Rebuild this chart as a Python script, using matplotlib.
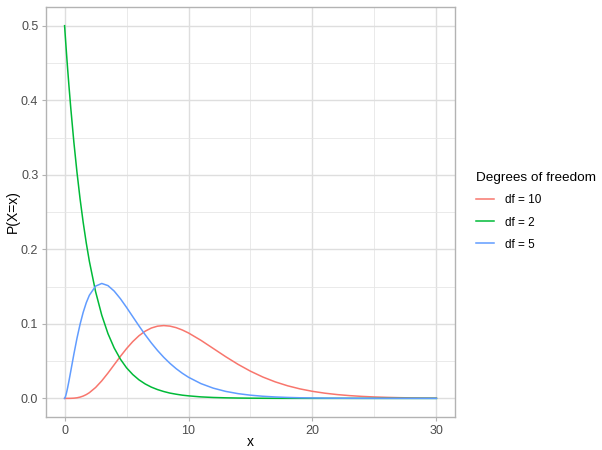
import matplotlib
matplotlib.use("Agg")
import matplotlib.pyplot as plt
from matplotlib.ticker import MultipleLocator

plt.rcParams['font.family'] = ['Liberation Sans', 'DejaVu Sans']

# x positions where the curves were read
x = [0, 0.05, 0.1, 0.15, 0.2, 0.25, 0.35, 0.5, 0.75, 1, 1.25, 1.5, 1.75, 2, 2.5,
     3, 3.5, 4, 4.5, 5, 5.5, 6, 6.5, 7, 7.5, 8, 8.5, 9, 9.5, 10, 11, 12, 13,
     14, 15, 16, 17, 18, 19, 20, 21, 22, 23, 24, 25, 26, 27, 28, 29, 30]

df10 = [0, 0, 0, 0, 0.0000019, 0.0000045, 0.000016, 0.0000634, 0.000283, 0.00079,
        0.0017015, 0.003114, 0.0050908, 0.007664, 0.014572,
        0.023533, 0.033954, 0.045112, 0.056276, 0.066801, 0.076169, 0.084016,
        0.090122, 0.094405, 0.096891, 0.097685, 0.096952, 0.094904, 0.091759,
        0.087734, 0.07791, 0.066927, 0.05591, 0.045613, 0.036458, 0.028626,
        0.022128, 0.016869, 0.012701, 0.009458, 0.006974, 0.005094, 0.003691,
        0.002654, 0.001896, 0.001345, 0.000949, 0.000665, 0.000464, 0.000323]

df2 = [0.5, 0.48765, 0.47561, 0.46387, 0.45242, 0.4412, 0.41973, 0.3894, 0.3436,
       0.3033, 0.26763, 0.2362, 0.20843, 0.1839, 0.1433, 0.1116,
       0.0869, 0.0677, 0.0527, 0.041, 0.032, 0.0249, 0.0194, 0.0151, 0.0118,
       0.0092, 0.0071, 0.0056, 0.0043, 0.0034, 0.002, 0.0012, 0.00075, 0.00046,
       0.00028, 0.00017, 0.0001, 0.00006, 0.00004, 0.00002, 0.00001, 0.00001,
       0, 0, 0, 0, 0, 0, 0, 0]

df5 = [0, 0.00145, 0.004, 0.007167, 0.010762, 0.01467, 0.023115, 0.03662, 0.05936,
       0.08066, 0.099476, 0.1154, 0.128333, 0.13837, 0.1506, 0.15418,
       0.15131, 0.14398, 0.1338, 0.12204, 0.10965, 0.09731, 0.08545, 0.07437,
       0.06424, 0.05511, 0.04701, 0.03989, 0.03369, 0.02833, 0.01983, 0.0137,
       0.00937, 0.00635, 0.00427, 0.00285, 0.0019, 0.00125, 0.00082, 0.00054,
       0.00035, 0.00023, 0.00015, 0.000096, 0.000062, 0.00004, 0.0000256,
       0.0000164, 0.0000105, 0.0000067]

labels = ["df = 10", "df = 2", "df = 5"]
colors = ["#F8766D", "#00BA38", "#619CFF"]

fig = plt.figure(figsize=(6.02, 4.5), dpi=100)
ax = fig.add_axes([0.0764, 0.0733, 0.6794, 0.911])

for ys, lab, c in zip([df10, df2, df5], labels, colors):
    ax.plot(x, ys, color=c, lw=1.1, label=lab)

ax.set_xlim(-1.5, 31.5)
ax.set_ylim(-0.025, 0.525)
ax.xaxis.set_major_locator(MultipleLocator(10))
ax.xaxis.set_minor_locator(MultipleLocator(5))
ax.yaxis.set_major_locator(MultipleLocator(0.1))
ax.yaxis.set_minor_locator(MultipleLocator(0.05))
ax.yaxis.set_major_formatter(plt.FuncFormatter(lambda v, p: f"{v:.1f}"))

ax.grid(which='major', color='#DEDEDE', lw=1.0)
ax.grid(which='minor', color='#E6E6E6', lw=0.6)
ax.set_axisbelow(True)
for s in ax.spines.values():
    s.set_color('#B3B3B3')
    s.set_linewidth(1.0)
ax.tick_params(which='major', color='#B3B3B3', length=3, labelsize=9,
               labelcolor='#4D4D4D', pad=2.5)
ax.tick_params(which='minor', length=0)

ax.set_xlabel("x", fontsize=10)
ax.xaxis.set_label_coords(0.5, -0.045)
ax.set_ylabel("P(X=x)", fontsize=10, labelpad=1)

leg = fig.legend(loc='center left', bbox_to_anchor=(0.773, 0.53), frameon=False,
                 title="Degrees of freedom", fontsize=8.5, title_fontsize=9.7,
                 handlelength=1.5, handletextpad=1.0, labelspacing=0.85)
leg._legend_box.align = "left"

fig.savefig("out.png", dpi=100)
